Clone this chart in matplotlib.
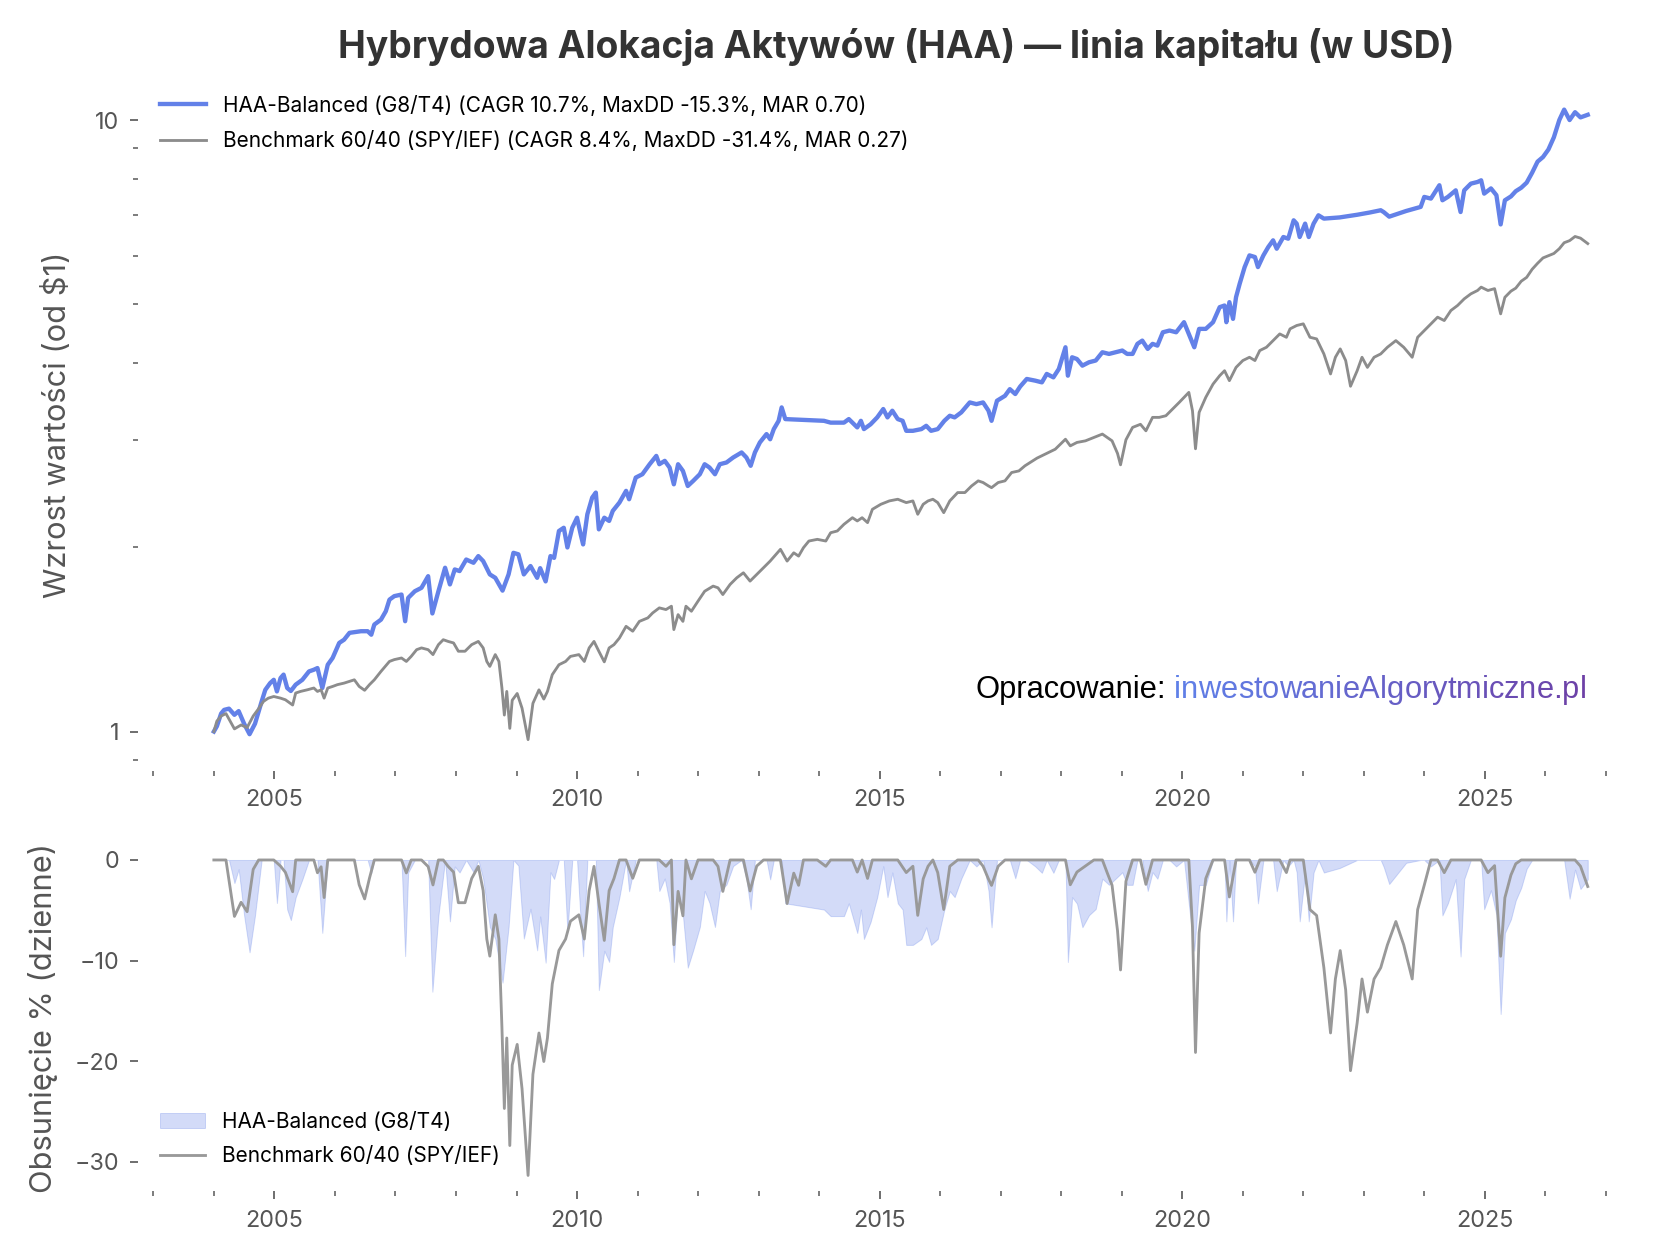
import datetime as dt

import numpy as np
import matplotlib
matplotlib.use("Agg")
from matplotlib import pyplot as plt
import matplotlib.dates as mdates
from matplotlib.ticker import LogLocator, NullFormatter, FuncFormatter, FixedLocator

plt.rcParams['font.family'] = ['Inter', 'DejaVu Sans']

# --- data (decimal year, growth of $1) ---
haa_t = [2004.00, 2004.05, 2004.12, 2004.17, 2004.25, 2004.34, 2004.41, 2004.50, 2004.59, 2004.68,
         2004.79, 2004.85, 2004.93, 2004.99, 2005.04, 2005.10, 2005.15, 2005.21, 2005.27, 2005.35,
         2005.46, 2005.57, 2005.65, 2005.71, 2005.79, 2005.88, 2005.96, 2006.01, 2006.07, 2006.15,
         2006.24, 2006.43, 2006.54, 2006.60, 2006.65, 2006.76, 2006.84, 2006.90, 2006.98, 2007.10,
         2007.16, 2007.21, 2007.32, 2007.43, 2007.54, 2007.61, 2007.71, 2007.82, 2007.90, 2007.98,
         2008.06, 2008.17, 2008.29, 2008.37, 2008.45, 2008.56, 2008.65, 2008.77, 2008.87, 2008.95,
         2009.03, 2009.12, 2009.23, 2009.34, 2009.39, 2009.48, 2009.56, 2009.62, 2009.70, 2009.78,
         2009.84, 2009.92, 2010.00, 2010.06, 2010.10, 2010.17, 2010.25, 2010.31, 2010.36, 2010.45,
         2010.53, 2010.59, 2010.70, 2010.81, 2010.86, 2010.97, 2011.08, 2011.20, 2011.31, 2011.36,
         2011.45, 2011.53, 2011.60, 2011.67, 2011.75, 2011.83, 2011.92, 2012.03, 2012.11, 2012.19,
         2012.28, 2012.36, 2012.47, 2012.58, 2012.72, 2012.80, 2012.87, 2012.94, 2013.02, 2013.13,
         2013.19, 2013.25, 2013.33, 2013.38, 2013.44, 2014.08, 2014.19, 2014.41, 2014.49, 2014.63,
         2014.69, 2014.74, 2014.85, 2014.96, 2015.06, 2015.13, 2015.21, 2015.30, 2015.38, 2015.44,
         2015.55, 2015.69, 2015.77, 2015.85, 2015.96, 2016.07, 2016.16, 2016.24, 2016.35, 2016.49,
         2016.60, 2016.71, 2016.80, 2016.85, 2016.94, 2017.07, 2017.15, 2017.24, 2017.32, 2017.43,
         2017.57, 2017.68, 2017.76, 2017.87, 2017.96, 2018.02, 2018.07, 2018.11, 2018.18, 2018.26,
         2018.35, 2018.46, 2018.57, 2018.68, 2018.79, 2019.01, 2019.09, 2019.18, 2019.26, 2019.34,
         2019.43, 2019.51, 2019.59, 2019.68, 2019.79, 2019.90, 2020.03, 2020.12, 2020.20, 2020.28,
         2020.39, 2020.51, 2020.62, 2020.70, 2020.73, 2020.78, 2020.84, 2020.89, 2020.95, 2021.03,
         2021.11, 2021.20, 2021.25, 2021.34, 2021.42, 2021.50, 2021.56, 2021.67, 2021.75, 2021.84,
         2021.89, 2021.94, 2022.03, 2022.09, 2022.17, 2022.25, 2022.34, 2022.60, 2022.89, 2023.10,
         2023.28, 2023.33, 2023.42, 2023.70, 2023.94, 2024.00, 2024.11, 2024.25, 2024.30, 2024.39,
         2024.52, 2024.60, 2024.66, 2024.77, 2024.88, 2024.94, 2024.99, 2025.10, 2025.19, 2025.26,
         2025.33, 2025.43, 2025.51, 2025.60, 2025.69, 2025.78, 2025.87, 2025.96, 2026.05, 2026.14,
         2026.23, 2026.31, 2026.40, 2026.49, 2026.58, 2026.70]
haa_v = [1.000, 1.020, 1.070, 1.085, 1.090, 1.065, 1.080, 1.030, 0.990, 1.030,
         1.120, 1.170, 1.200, 1.215, 1.163, 1.223, 1.239, 1.178, 1.165, 1.193,
         1.215, 1.254, 1.262, 1.270, 1.178, 1.286, 1.319, 1.353, 1.396, 1.413,
         1.450, 1.459, 1.459, 1.440, 1.496, 1.524, 1.573, 1.643, 1.665, 1.675,
         1.515, 1.654, 1.696, 1.718, 1.795, 1.560, 1.696, 1.853, 1.740, 1.841,
         1.830, 1.911, 1.888, 1.936, 1.900, 1.807, 1.784, 1.700, 1.807, 1.960,
         1.949, 1.807, 1.865, 1.784, 1.850, 1.760, 1.936, 1.923, 2.128, 2.154,
         2.000, 2.154, 2.237, 2.101, 2.023, 2.266, 2.413, 2.459, 2.141, 2.237,
         2.210, 2.295, 2.368, 2.475, 2.398, 2.602, 2.635, 2.736, 2.823, 2.736,
         2.771, 2.702, 2.537, 2.736, 2.668, 2.521, 2.570, 2.635, 2.736, 2.702,
         2.635, 2.736, 2.754, 2.806, 2.860, 2.806, 2.720, 2.860, 2.970, 3.065,
         3.006, 3.123, 3.222, 3.389, 3.243, 3.222, 3.200, 3.200, 3.243, 3.143,
         3.222, 3.123, 3.180, 3.264, 3.368, 3.264, 3.347, 3.243, 3.222, 3.103,
         3.103, 3.123, 3.162, 3.103, 3.123, 3.222, 3.284, 3.264, 3.326, 3.453,
         3.431, 3.453, 3.347, 3.222, 3.475, 3.540, 3.630, 3.564, 3.665, 3.772,
         3.748, 3.724, 3.844, 3.795, 3.917, 4.093, 4.250, 3.819, 4.093, 4.066,
         3.966, 4.017, 4.043, 4.171, 4.145, 4.198, 4.145, 4.145, 4.305, 4.358,
         4.224, 4.305, 4.277, 4.497, 4.526, 4.497, 4.671, 4.441, 4.250, 4.555,
         4.555, 4.671, 4.943, 4.974, 4.671, 5.037, 4.730, 5.133, 5.398, 5.748,
         6.007, 5.970, 5.748, 6.007, 6.198, 6.357, 6.160, 6.437, 6.397, 6.855,
         6.770, 6.437, 6.770, 6.437, 6.770, 6.986, 6.899, 6.930, 7.000, 7.060,
         7.120, 7.070, 6.950, 7.100, 7.210, 7.486, 7.439, 7.823, 7.392, 7.486,
         7.674, 7.073, 7.674, 7.870, 7.920, 7.970, 7.580, 7.730, 7.535, 6.750,
         7.392, 7.500, 7.650, 7.750, 7.900, 8.200, 8.550, 8.700, 8.950, 9.370,
         10.00, 10.40, 10.00, 10.30, 10.10, 10.20]

bm_t = [2004.00, 2004.05, 2004.12, 2004.20, 2004.34, 2004.45, 2004.55, 2004.65, 2004.74, 2004.82,
        2004.90, 2004.99, 2005.10, 2005.18, 2005.30, 2005.35, 2005.43, 2005.54, 2005.65, 2005.71,
        2005.77, 2005.82, 2005.88, 2005.96, 2006.04, 2006.15, 2006.24, 2006.32, 2006.40, 2006.49,
        2006.57, 2006.65, 2006.76, 2006.90, 2006.98, 2007.10, 2007.18, 2007.26, 2007.35, 2007.43,
        2007.54, 2007.62, 2007.71, 2007.79, 2007.87, 2007.96, 2008.04, 2008.15, 2008.26, 2008.37,
        2008.45, 2008.51, 2008.56, 2008.65, 2008.71, 2008.76, 2008.80, 2008.84, 2008.89, 2008.93,
        2009.01, 2009.09, 2009.19, 2009.27, 2009.37, 2009.45, 2009.51, 2009.59, 2009.70, 2009.81,
        2009.89, 2010.03, 2010.12, 2010.20, 2010.28, 2010.36, 2010.45, 2010.53, 2010.61, 2010.70,
        2010.81, 2010.92, 2011.03, 2011.17, 2011.25, 2011.36, 2011.47, 2011.56, 2011.60, 2011.67,
        2011.75, 2011.80, 2011.89, 2012.00, 2012.11, 2012.25, 2012.33, 2012.41, 2012.53, 2012.64,
        2012.75, 2012.86, 2012.97, 2013.08, 2013.19, 2013.36, 2013.47, 2013.58, 2013.66, 2013.74,
        2013.83, 2013.97, 2014.11, 2014.19, 2014.30, 2014.41, 2014.55, 2014.63, 2014.71, 2014.80,
        2014.88, 2015.02, 2015.16, 2015.30, 2015.44, 2015.55, 2015.63, 2015.72, 2015.80, 2015.88,
        2015.96, 2016.06, 2016.16, 2016.29, 2016.41, 2016.52, 2016.63, 2016.71, 2016.80, 2016.85,
        2016.96, 2017.07, 2017.18, 2017.30, 2017.40, 2017.60, 2017.90, 2018.07, 2018.15, 2018.26,
        2018.40, 2018.54, 2018.68, 2018.76, 2018.84, 2018.93, 2018.98, 2019.07, 2019.18, 2019.31,
        2019.40, 2019.51, 2019.62, 2019.73, 2019.84, 2019.95, 2020.11, 2020.17, 2020.22, 2020.28,
        2020.39, 2020.51, 2020.62, 2020.70, 2020.78, 2020.89, 2021.00, 2021.11, 2021.20, 2021.28,
        2021.39, 2021.50, 2021.61, 2021.72, 2021.78, 2021.89, 2022.00, 2022.11, 2022.22, 2022.34,
        2022.45, 2022.53, 2022.61, 2022.70, 2022.78, 2022.89, 2022.97, 2023.06, 2023.17, 2023.28,
        2023.39, 2023.53, 2023.66, 2023.80, 2023.89, 2024.00, 2024.11, 2024.22, 2024.33, 2024.44,
        2024.55, 2024.66, 2024.77, 2024.88, 2024.94, 2025.05, 2025.16, 2025.26, 2025.33, 2025.43,
        2025.51, 2025.60, 2025.69, 2025.78, 2025.87, 2025.96, 2026.05, 2026.14, 2026.23, 2026.31,
        2026.40, 2026.49, 2026.58, 2026.70]
bm_v = [1.000, 1.040, 1.060, 1.070, 1.010, 1.025, 1.015, 1.060, 1.090, 1.120,
        1.134, 1.141, 1.134, 1.127, 1.105, 1.156, 1.163, 1.170, 1.178, 1.163,
        1.170, 1.134, 1.178, 1.185, 1.193, 1.200, 1.208, 1.215, 1.185, 1.168,
        1.193, 1.215, 1.254, 1.302, 1.311, 1.319, 1.302, 1.327, 1.361, 1.370,
        1.361, 1.336, 1.387, 1.413, 1.404, 1.396, 1.353, 1.353, 1.387, 1.404,
        1.370, 1.302, 1.278, 1.336, 1.302, 1.178, 1.064, 1.163, 1.012, 1.125,
        1.154, 1.092, 0.970, 1.112, 1.170, 1.130, 1.163, 1.239, 1.286, 1.302,
        1.327, 1.336, 1.302, 1.370, 1.404, 1.353, 1.300, 1.370, 1.387, 1.422,
        1.486, 1.459, 1.514, 1.534, 1.563, 1.593, 1.583, 1.603, 1.468, 1.553,
        1.514, 1.603, 1.573, 1.634, 1.696, 1.729, 1.718, 1.675, 1.740, 1.784,
        1.818, 1.762, 1.807, 1.853, 1.900, 1.986, 1.900, 1.960, 1.936, 1.998,
        2.049, 2.062, 2.049, 2.114, 2.128, 2.182, 2.237, 2.210, 2.237, 2.196,
        2.309, 2.353, 2.383, 2.398, 2.368, 2.383, 2.266, 2.353, 2.383, 2.398,
        2.368, 2.280, 2.383, 2.459, 2.459, 2.521, 2.570, 2.554, 2.521, 2.505,
        2.554, 2.570, 2.652, 2.668, 2.720, 2.800, 2.895, 3.006, 2.932, 2.970,
        2.988, 3.026, 3.065, 3.026, 2.988, 2.850, 2.730, 3.000, 3.143, 3.180,
        3.103, 3.264, 3.264, 3.284, 3.368, 3.453, 3.586, 3.347, 2.900, 3.326,
        3.520, 3.700, 3.819, 3.891, 3.748, 3.940, 4.043, 4.093, 4.043, 4.198,
        4.250, 4.358, 4.469, 4.413, 4.555, 4.613, 4.642, 4.413, 4.386, 4.145,
        3.844, 4.093, 4.224, 4.043, 3.670, 3.891, 4.093, 3.940, 4.093, 4.145,
        4.250, 4.358, 4.250, 4.093, 4.413, 4.526, 4.642, 4.760, 4.700, 4.881,
        4.974, 5.100, 5.197, 5.263, 5.330, 5.263, 5.300, 4.820, 5.130, 5.250,
        5.310, 5.450, 5.530, 5.700, 5.830, 5.950, 6.000, 6.050, 6.160, 6.300,
        6.350, 6.450, 6.410, 6.280]

haa_label = "HAA-Balanced (G8/T4)"
bm_label = "Benchmark 60/40 (SPY/IEF)"
haa_stats = "(CAGR 10.7%, MaxDD -15.3%, MAR 0.70)"
bm_stats = "(CAGR 8.4%, MaxDD -31.4%, MAR 0.27)"

BLUE = '#6381e8'
GREY = '#8c8c8c'
TXT = '#555555'


def to_dates(years):
    out = []
    for y in years:
        yi = int(y)
        out.append(dt.datetime(yi, 1, 1) + dt.timedelta(days=(y - yi) * 365.25))
    return out


def drawdown(vals):
    v = np.asarray(vals)
    return (v / np.maximum.accumulate(v) - 1.0) * 100.0


haa_d = to_dates(haa_t)
bm_d = to_dates(bm_t)
x_lim = to_dates([2002.74, 2027.82])

fig = plt.figure(figsize=(1679 / 120, 1260 / 120), dpi=120)
ax1 = fig.add_axes([0.082, 0.388, 0.904, 0.55])
ax2 = fig.add_axes([0.082, 0.0546, 0.904, 0.2754])

# equity curves
ax1.plot(haa_d, haa_v, color=BLUE, lw=2.6, label=f"{haa_label} {haa_stats}")
ax1.plot(bm_d, bm_v, color=GREY, lw=1.7, label=f"{bm_label} {bm_stats}")
ax1.set_yscale('log')
ax1.yaxis.set_major_locator(LogLocator(base=10))
ax1.yaxis.set_major_formatter(FuncFormatter(lambda v, p: f"{v:g}"))
ax1.yaxis.set_minor_locator(LogLocator(base=10, subs=np.arange(2, 10)))
ax1.yaxis.set_minor_formatter(NullFormatter())
ax1.set_ylabel("Wzrost wartości (od $1)", fontsize=18.5, color=TXT, labelpad=14)
ax1.set_title("Hybrydowa Alokacja Aktywów (HAA) — linia kapitału (w USD)",
              fontsize=22.3, fontweight='bold', color='#333333', pad=12)
ax1.legend(loc='upper left', bbox_to_anchor=(0.004, 1), frameon=False, fontsize=12.5,
           borderaxespad=0.4, handlelength=2.2, labelspacing=0.7)

# drawdowns
ax2.fill_between(haa_d, drawdown(haa_v), 0, facecolor=BLUE, alpha=0.28,
                 edgecolor=BLUE, linewidth=0.6, label=haa_label)
ax2.plot(bm_d, drawdown(bm_v), color='#999999', lw=1.7, label=bm_label)
ax2.yaxis.set_major_locator(FixedLocator([0, -10, -20, -30]))
ax2.set_ylabel("Obsunięcie % (dzienne)", fontsize=18.5, color=TXT, labelpad=10)
ax2.legend(loc='lower left', bbox_to_anchor=(-0.002, 0), frameon=False, fontsize=12.5,
           borderaxespad=0.8, handlelength=2.2, labelspacing=0.7)

for ax in (ax1, ax2):
    for s in ax.spines.values():
        s.set_visible(False)
    ax.set_xlim(x_lim)
    ax.xaxis.set_major_locator(mdates.YearLocator(5))
    ax.xaxis.set_minor_locator(mdates.YearLocator(1))
    ax.xaxis.set_major_formatter(mdates.DateFormatter('%Y'))
    ax.tick_params(which='major', length=5, width=1, color=TXT, labelcolor=TXT,
                   labelsize=14, pad=6)
    ax.tick_params(which='minor', length=3, width=0.9, color=TXT)

# watermark with gradient url, built right to left
url = "inwestowanieAlgorytmiczne.pl"
c0 = np.array([0x5f, 0x80, 0xe8]) / 255.0
c1 = np.array([0x6d, 0x40, 0xa6]) / 255.0
wm_font = dict(fontsize=18.5, family=['Liberation Sans', 'DejaVu Sans'])
prev = None
n = len(url)
for i in range(n - 1, -1, -1):
    col = c0 + (c1 - c0) * i / (n - 1)
    if prev is None:
        prev = ax1.text(0.9545, 0.095, url[i], transform=ax1.transAxes,
                        ha='right', va='bottom', color=col, **wm_font)
    else:
        prev = ax1.annotate(url[i], xy=(0, 0), xycoords=prev, ha='right',
                            va='bottom', color=col, **wm_font)
ax1.annotate("Opracowanie:", xy=(0, 0), xycoords=prev, xytext=(-5, 0),
             textcoords='offset points', ha='right', va='bottom', color='black',
             **wm_font)

fig.savefig("out.png", dpi=120, facecolor='white')
